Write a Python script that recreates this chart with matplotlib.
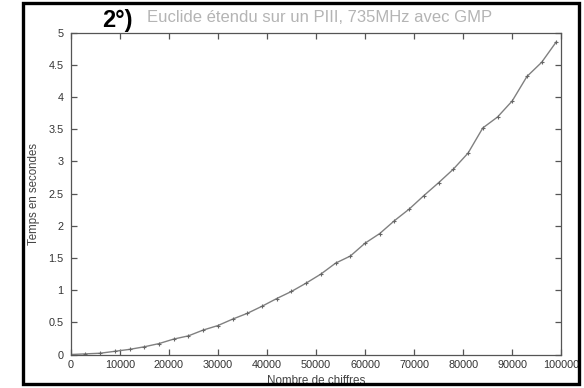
import matplotlib
matplotlib.use("Agg")
import matplotlib.pyplot as plt
from matplotlib.patches import Rectangle

# Number of digits processed and the measured running time (s)
digits = [0, 3000, 6000, 9000, 12000, 15000, 18000, 21000, 24000, 27000,
          30000, 33000, 36000, 39000, 42000, 45000, 48000, 51000, 54000,
          57000, 60000, 63000, 66000, 69000, 72000, 75000, 78000, 81000,
          84000, 87000, 90000, 93000, 96000, 99000]
seconds = [0.0, 0.01, 0.02, 0.05, 0.08, 0.12, 0.17, 0.24, 0.29, 0.38,
           0.45, 0.55, 0.64, 0.75, 0.87, 0.98, 1.11, 1.25, 1.42,
           1.53, 1.73, 1.88, 2.08, 2.26, 2.47, 2.67, 2.88, 3.13,
           3.52, 3.69, 3.94, 4.32, 4.54, 4.86]

x_ticks = [0, 10000, 20000, 30000, 40000, 50000, 60000, 70000, 80000, 90000, 100000]
y_ticks = [0, 0.5, 1, 1.5, 2, 2.5, 3, 3.5, 4, 4.5, 5]
y_tick_labels = ["0", "0.5", "1", "1.5", "2", "2.5", "3", "3.5", "4", "4.5", "5"]

plt.rcParams["font.family"] = ["Liberation Sans", "DejaVu Sans"]

fig = plt.figure(figsize=(5.84, 3.88), dpi=100)
ax = fig.add_axes([0.1211, 0.0863, 0.840, 0.8294])

ax.plot(digits, seconds, color="#808080", linewidth=1.0,
        marker="+", markersize=3.5, markeredgewidth=0.8, markeredgecolor="#666666")

ax.set_xlim(0, 100000)
ax.set_ylim(0, 5)
ax.set_xticks(x_ticks)
ax.set_xticklabels([str(t) for t in x_ticks])
ax.set_yticks(y_ticks)
ax.set_yticklabels(y_tick_labels)

for side in ax.spines.values():
    side.set_color("#555555")
    side.set_linewidth(0.9)

ax.tick_params(direction="in", length=4, width=0.9, color="#555555",
               labelsize=7.8, labelcolor="#333333", top=True, right=True)
ax.tick_params(axis="y", pad=5)
ax.tick_params(axis="x", pad=4)

ax.set_xlabel("Nombre de chiffres", fontsize=8.4, color="#444444")
ax.xaxis.set_label_coords(0.5, -0.082)
ax.xaxis.label.set_va("center")
ax.set_ylabel("Temps en secondes", fontsize=8.3, color="#444444")
ax.yaxis.set_label_coords(-0.075, 0.5)
ax.yaxis.label.set_va("center")

# Title: bold black number followed by a light grey caption
fig.text(0.175, 0.948, "2°)", fontsize=17, fontweight="bold", color="black",
         ha="left", va="center")
fig.text(0.251, 0.955, "Euclide étendu sur un PIII, 735MHz avec GMP",
         fontsize=12.0, color="#b4b4b4", ha="left", va="center")

# Thick black frame around the whole figure
fig.patches.append(Rectangle((23.3 / 584, 1 - 383.5 / 388),
                             (579 - 23.3) / 584, (383.5 - 3.3) / 388,
                             transform=fig.transFigure, fill=False,
                             edgecolor="black", linewidth=2.4, zorder=10))

fig.savefig("out.png", dpi=100)
